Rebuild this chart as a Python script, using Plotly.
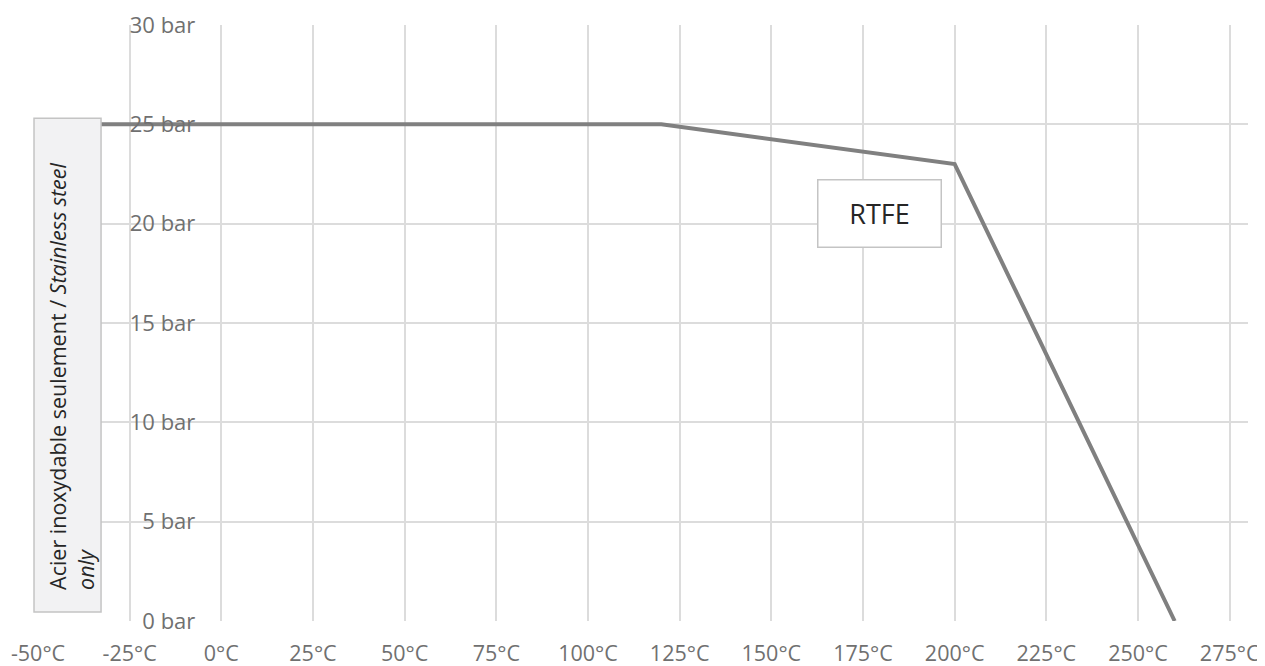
import plotly.graph_objects as go

# Data
temps = [-50, 120, 200, 260]
pressures = [25, 25, 23, 0]
x_ticks = [-50, -25, 0, 25, 50, 75, 100, 125, 150, 175, 200, 225, 250, 275]
y_ticks = [0, 5, 10, 15, 20, 25, 30]
series_label = "RTFE"
box_text = "Acier inoxydable seulement / <i>Stainless steel</i><br><i>only</i>"

X_RANGE = [-50, 280]
Y_RANGE = [0, 30]

fig = go.Figure()
fig.add_trace(go.Scatter(
    x=temps, y=pressures, mode="lines",
    line=dict(color="#808080", width=4), hoverinfo="skip", showlegend=False,
))

y_tick_font = dict(family="Open Sans", size=22, color="#707070")
x_tick_font = dict(family="Open Sans", size=21.5, color="#707070")

fig.update_layout(
    width=1257, height=658,
    margin=dict(l=30, r=17, t=17, b=45, autoexpand=False),
    paper_bgcolor="white", plot_bgcolor="white",
    showlegend=False,
    xaxis=dict(
        range=X_RANGE, tickvals=x_ticks, ticktext=[f"{v}°C" for v in x_ticks],
        showgrid=True, gridcolor="#dcdcdc", gridwidth=2, zeroline=False,
        showline=False, tickfont=x_tick_font, ticks="", ticklabelstandoff=17,
        fixedrange=True, automargin=False,
    ),
    yaxis=dict(
        range=Y_RANGE, tickvals=y_ticks, ticktext=[f"{v} bar" for v in y_ticks],
        showgrid=True, gridcolor="#dcdcdc", gridwidth=2, zeroline=False,
        showline=False, tickfont=y_tick_font, ticks="",
        anchor="free", position=(0 - X_RANGE[0]) / (X_RANGE[1] - X_RANGE[0]),
        ticklabelstandoff=26, fixedrange=True, automargin=False,
    ),
)

# Left grey box (stainless steel only)
fig.add_shape(type="rect", xref="paper", yref="y",
              x0=-0.0033, x1=0.0521, y0=0.45, y1=25.3,
              fillcolor="#f2f2f3", line=dict(color="#c4c4c4", width=1.5),
              layer="above")
fig.add_annotation(xref="paper", yref="y", x=0.0275, y=1.45,
                   xanchor="center", yanchor="bottom",
                   text=box_text, textangle=-90, align="left", showarrow=False,
                   font=dict(family="Open Sans", size=21.5, color="#262626"))

# RTFE label box
fig.add_annotation(xref="x", yref="y", x=179.6, y=20.5,
                   text=series_label, showarrow=False,
                   font=dict(family="Open Sans", size=27, color="#262626"),
                   bgcolor="white", bordercolor="#c4c4c4", borderwidth=1.5,
                   width=120, height=64)

fig.write_html("out.html", config={"displayModeBar": False})
